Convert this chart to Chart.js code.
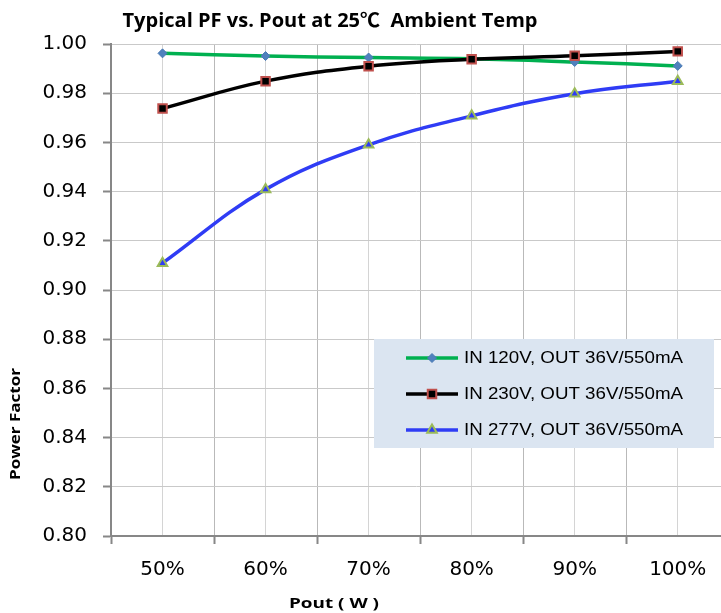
<!DOCTYPE html>
<html>
<head>
<meta charset="utf-8">
<title>Typical PF vs. Pout</title>
<script src="https://cdn.jsdelivr.net/npm/chart.js@4.4.1/dist/chart.umd.min.js"></script>
<style>
  html, body { margin: 0; padding: 0; background: #fff; overflow: hidden; }
  canvas { display: block; }
</style>
</head>
<body>
<canvas id="pf-chart" width="721" height="613"></canvas>
<script>
// data
var loadPct = [50, 60, 70, 80, 90, 100];
var pf120 = [0.9962, 0.9951, 0.9945, 0.9940, 0.9927, 0.9911];
var pf230 = [0.9738, 0.9849, 0.9910, 0.9938, 0.9952, 0.9970];
var pf277 = [0.9109, 0.9409, 0.9590, 0.9708, 0.9798, 0.9849];
var seriesNames = ['IN 120V, OUT 36V/550mA', 'IN 230V, OUT 36V/550mA', 'IN 277V, OUT 36V/550mA'];
var yMin = 0.80, yMax = 1.00, yStep = 0.02;
var chartTitle = 'Typical PF vs. Pout at 25\u2103  Ambient Temp';
var xTitle = 'Pout ( W )';
var yTitle = 'Power Factor';

function pts(vals){
    return loadPct.map(function(p, i){ return { x: p, y: vals[i] }; });
}

// draw a text squeezed/stretched to a given width
function fitText(ctx, text, x, cy, width, font, opts){
    opts = opts || {};
    ctx.save();
    ctx.font = font;
    var w = ctx.measureText(text).width;
    ctx.translate(x, cy);
    if (opts.rot) ctx.rotate(opts.rot);
    ctx.scale(width / w, 1);
    ctx.textAlign = opts.align || 'center';
    ctx.textBaseline = 'middle';
    ctx.fillStyle = '#000';
    ctx.fillText(text, 0, 0);
    ctx.restore();
}

var decorPlugin = {
    id: 'decor',
    afterDraw: function(chart){
        var ctx = chart.ctx;
        fitText(ctx, chartTitle, 330, 22, 415, 'bold 19px "Open Sans", "Noto Sans CJK SC", sans-serif');
        fitText(ctx, xTitle, 334, 604, 90, 'bold 15px "Open Sans", sans-serif');
        fitText(ctx, yTitle, 16, 424, 112, 'bold 15px "Open Sans", sans-serif', { rot: -Math.PI / 2 });

        // legend box inside the plot
        ctx.save();
        ctx.fillStyle = '#dbe5f1';
        ctx.fillRect(374, 339, 340, 109);
        ctx.restore();
        var rows = [358, 394, 430];
        chart.data.datasets.forEach(function(ds, i){
            var y = rows[i];
            ctx.save();
            ctx.strokeStyle = ds.borderColor;
            ctx.lineWidth = ds.borderWidth;
            ctx.beginPath();
            ctx.moveTo(406, y);
            ctx.lineTo(458, y);
            ctx.stroke();
            ctx.fillStyle = ds.pointBackgroundColor;
            ctx.strokeStyle = ds.pointBorderColor;
            ctx.lineWidth = ds.pointBorderWidth;
            Chart.helpers.drawPoint(ctx, {
                pointStyle: ds.pointStyle,
                radius: ds.pointRadius,
                rotation: 0,
                borderWidth: ds.pointBorderWidth
            }, 432, y);
            ctx.restore();
            fitText(ctx, ds.label, 464, y + 1, 219, '16px "Liberation Sans", Arial, sans-serif', { align: 'left' });
        });
    }
};

var axisGray = '#878787';
function isMajor(v){ return Math.abs(v % 10) < 0.01; }
function isHalf(v){ return Math.abs(v % 10 - 5) < 0.01; }

new Chart(document.getElementById('pf-chart').getContext('2d'), {
    type: 'line',
    data: {
        datasets: [
            {
                label: seriesNames[0], data: pts(pf120), order: 2,
                borderColor: '#00b050', borderWidth: 3.5, tension: 0.4,
                pointStyle: 'rectRot', pointRadius: 4.5,
                pointBackgroundColor: '#4f81bd', pointBorderColor: '#4a7ab5', pointBorderWidth: 1
            },
            {
                label: seriesNames[1], data: pts(pf230), order: 1,
                borderColor: '#000000', borderWidth: 3.5, tension: 0.4,
                pointStyle: 'rect', pointRadius: 6,
                pointBackgroundColor: '#000000', pointBorderColor: '#c0504d', pointBorderWidth: 2
            },
            {
                label: seriesNames[2], data: pts(pf277), order: 0,
                borderColor: '#2f3cf5', borderWidth: 3.5, tension: 0.4,
                pointStyle: 'triangle', pointRadius: 5.5,
                pointBackgroundColor: '#2f3cf5', pointBorderColor: '#9bbb59', pointBorderWidth: 2
            }
        ]
    },
    options: {
        responsive: false,
        animation: false,
        devicePixelRatio: 1,
        layout: { autoPadding: false, padding: { top: 44, right: 0, left: 0, bottom: 0 } },
        plugins: { legend: { display: false }, tooltip: { enabled: false } },
        scales: {
            x: {
                type: 'linear',
                bounds: 'data',
                min: 45, max: 104.2,
                afterFit: function(scale){
                    scale.height = 77;
                    scale.paddingLeft = 0;
                    scale.paddingRight = 0;
                },
                ticks: {
                    stepSize: 5, autoSkip: false, maxRotation: 0, padding: 14,
                    includeBounds: false,
                    color: '#000',
                    font: { family: '"DejaVu Sans", sans-serif', size: 20 },
                    callback: function(v){ return isMajor(v) ? v + '%' : ''; }
                },
                grid: {
                    color: function(c){
                        var v = c.tick ? c.tick.value : 0;
                        if (v > 104) return 'rgba(0,0,0,0)';
                        if (isMajor(v)) return '#d4d4d4';
                        if (isHalf(v)) return '#b9b9b9';
                        return 'rgba(0,0,0,0)';
                    },
                    tickColor: function(c){
                        var v = c.tick ? c.tick.value : 0;
                        return (isHalf(v) && v < 104) ? axisGray : 'rgba(0,0,0,0)';
                    },
                    tickLength: 8, tickWidth: 2, lineWidth: 1
                },
                border: { color: axisGray, width: 2 }
            },
            y: {
                min: yMin, max: yMax,
                afterFit: function(scale){ scale.width = 111; },
                ticks: {
                    stepSize: yStep, padding: 16, color: '#000',
                    font: { family: '"DejaVu Sans", sans-serif', size: 20 },
                    callback: function(v){ return Number(v).toFixed(2); }
                },
                grid: { color: '#c9c9c9', tickColor: axisGray, tickLength: 8, tickWidth: 2, lineWidth: 1 },
                border: { color: axisGray, width: 2 }
            }
        }
    },
    plugins: [decorPlugin]
});
</script>
</body>
</html>
